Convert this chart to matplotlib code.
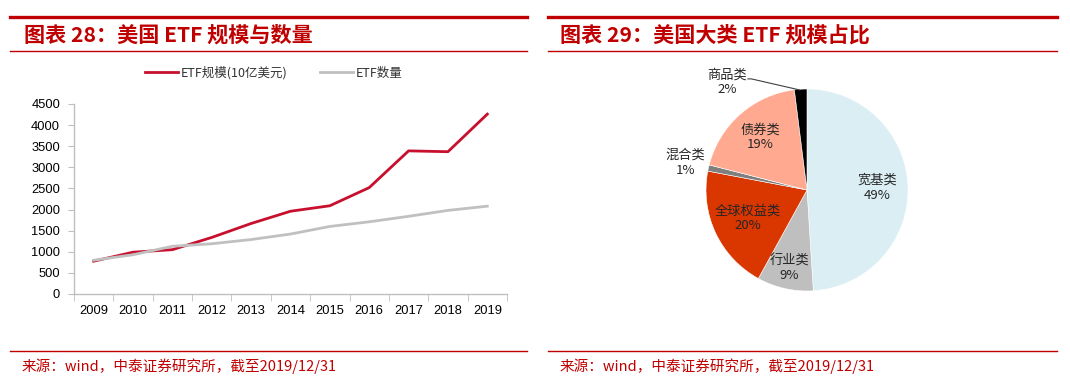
import matplotlib
matplotlib.use("Agg")
import matplotlib.pyplot as plt
import numpy as np

# ---------------- data ----------------
years = ["2009", "2010", "2011", "2012", "2013", "2014", "2015", "2016", "2017", "2018", "2019"]
etf_aum = [777, 990, 1050, 1340, 1670, 1960, 2090, 2520, 3390, 3370, 4260]
etf_count = [800, 930, 1130, 1190, 1290, 1420, 1600, 1710, 1840, 1980, 2080]
yticks = [0, 500, 1000, 1500, 2000, 2500, 3000, 3500, 4000, 4500]

pie_labels = ["宽基类", "行业类", "全球权益类", "混合类", "债券类", "商品类"]
pie_values = [49, 9, 20, 1, 19, 2]
pie_colors = ["#DAEEF3", "#BFBFBF", "#D93600", "#7F7F7F", "#FFAA90", "#000000"]

title_left = "图表 28：美国 ETF 规模与数量"
title_right = "图表 29：美国大类 ETF 规模占比"
source = "来源：wind，中泰证券研究所，截至2019/12/31"

plt.rcParams['font.family'] = ['Noto Sans CJK SC', 'DejaVu Sans']

W, H = 1070, 386
fig = plt.figure(figsize=(W / 100, H / 100), dpi=100)

def fx(x):
    return x / W

def fy(y):
    return 1 - y / H

RED = "#C00000"

# ---------------- header / footer decorations ----------------
for (x0, x1) in [(10, 527), (548, 1057)]:
    fig.add_artist(plt.Line2D([fx(x0), fx(x1)], [fy(16.5), fy(16.5)], color=RED, lw=2.4))
    fig.add_artist(plt.Line2D([fx(x0), fx(x1)], [fy(51), fy(51)], color=RED, lw=1.0))
    fig.add_artist(plt.Line2D([fx(x0), fx(x1)], [fy(351), fy(351)], color=RED, lw=1.0))

fig.text(fx(24), fy(35), title_left, color=RED, fontsize=15.2, fontweight='bold',
         ha='left', va='center')
fig.text(fx(560), fy(35), title_right, color=RED, fontsize=15.2, fontweight='bold',
         ha='left', va='center')
fig.text(fx(22), fy(366), source, color=RED, fontsize=10.5, ha='left', va='center')
fig.text(fx(560), fy(366), source, color=RED, fontsize=10.5, ha='left', va='center')

# ---------------- line chart ----------------
ax = fig.add_axes([fx(74), fy(294), fx(507) - fx(74), fy(104) - fy(294)])
x = np.arange(len(years))
l1, = ax.plot(x, etf_aum, color="#C8102E", lw=2.0, label="ETF规模(10亿美元)")
l2, = ax.plot(x, etf_count, color="#C0C0C0", lw=2.0, label="ETF数量")
ax.set_xlim(-0.5, len(years) - 0.5)
ax.set_ylim(0, 4500)
ax.set_yticks(yticks)
ax.set_yticklabels([str(v) for v in yticks], fontfamily='Liberation Sans', fontsize=9.3)
ax.set_xticks(x)
ax.set_xticklabels(years, fontfamily='Liberation Sans', fontsize=9.3)
ax.set_xticks(np.arange(-0.5, len(years), 1.0), minor=True)
ax.tick_params(axis='x', which='major', length=0, pad=8)
ax.tick_params(axis='x', which='minor', length=5, color="#BFBFBF", direction='out')
ax.tick_params(axis='y', length=4, color="#BFBFBF", direction='out', pad=6)
for s in ['top', 'right']:
    ax.spines[s].set_visible(False)
for s in ['left', 'bottom']:
    ax.spines[s].set_color("#BFBFBF")
    ax.spines[s].set_linewidth(1.0)

leg = fig.legend(handles=[l1, l2], loc='center', bbox_to_anchor=(fx(274), fy(73)),
                 ncol=2, frameon=False, fontsize=9, handlelength=2.6,
                 columnspacing=2.6, handletextpad=0.25)
for t in leg.get_texts():
    t.set_color("#333333")

# ---------------- pie chart ----------------
cx, cy, R = 807, 190, 101
half = 150
pax = fig.add_axes([fx(cx - half), fy(cy + half), 2 * half / W, 2 * half / H])
wedges, _ = pax.pie(pie_values, colors=pie_colors, startangle=90, counterclock=False,
                    radius=1.0, wedgeprops=dict(linewidth=0.4, edgecolor='white'))
lim = half / R
pax.set_xlim(-lim, lim)
pax.set_ylim(-lim, lim)
pax.set_aspect('equal')
pax.axis('off')

label_dist = [0.70, 0.79, 0.65, 1.23, 0.70, None]
total = sum(pie_values)
cum = 0
for lab, v, d in zip(pie_labels, pie_values, label_dist):
    mid = (cum + v / 2) / total * 2 * np.pi
    cum += v
    txt = f"{lab}\n{v}%"
    if d is None:
        # leader-line label for the small commodity slice
        pax.text(-0.79, 1.07, txt, ha='center', va='center', fontsize=9.5,
                 color="#262626", linespacing=1.15)
        pax.plot([-0.59, -0.55, -0.07], [1.10, 1.10, 0.99],
                 color="#404040", lw=0.8, solid_capstyle='butt')
        continue
    px, py = d * np.sin(mid), d * np.cos(mid)
    pax.text(px, py, txt, ha='center', va='center', fontsize=9.5,
             color="#262626", linespacing=1.15)

fig.savefig("out.png", dpi=100)
